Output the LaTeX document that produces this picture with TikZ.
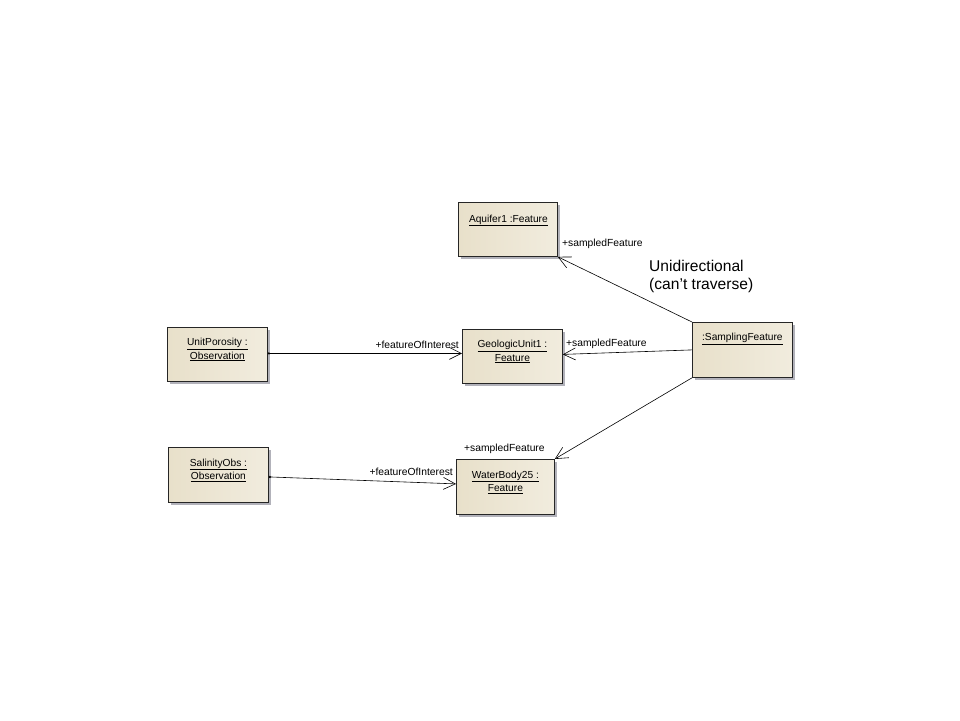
\documentclass[tikz,border=0pt]{standalone}
\usepackage{fontspec}
\setmainfont{Liberation Sans}
\usetikzlibrary{arrows.meta,calc}
\definecolor{boxL}{HTML}{E8E0CA}
\definecolor{boxR}{HTML}{F1ECDE}
\definecolor{shadowc}{HTML}{B2B2BA}
\tikzset{
  umlbox/.style={rectangle,draw=black!85,line width=0.8pt,shading=axis,left color=boxL,right color=boxR,
    minimum width=#1,minimum height=54pt,inner sep=0pt,anchor=north west},
  umlbox/.default=100pt,
  boxtext/.style={font=\fontsize{10.2}{13.5}\selectfont,align=center,inner sep=0pt,anchor=north},
  rolelabel/.style={font=\fontsize{10.3}{12}\selectfont,inner sep=0pt},
  assoc/.style={line width=0.6pt,black},
  navig/.style={assoc,-{Straight Barb[length=12pt,width=12pt,line width=0.6pt]}},
  bothnav/.style={assoc,{Circle[length=2.2pt]}-{Straight Barb[length=12pt,width=12pt,line width=0.6pt]}},
}
\begin{document}
\begin{tikzpicture}[x=1pt,y=-1pt]
\useasboundingbox (0,0) rectangle (960,720);
% shadows
\fill[shadowc] (461,205) rectangle (560,259);
\fill[shadowc] (465,332) rectangle (565,386);
\fill[shadowc] (695,325) rectangle (795,380);
\fill[shadowc] (170,330) rectangle (270,384);
\fill[shadowc] (171,450) rectangle (271,505);
\fill[shadowc] (459,462) rectangle (557,517);
% boxes
\node[umlbox=99pt] (aq) at (458,202) {};
\node[umlbox=100pt] (geo) at (462,329) {};
\node[umlbox=100pt,minimum height=55pt] (samp) at (692,322) {};
\node[umlbox=100pt] (up) at (167,327) {};
\node[umlbox=100pt,minimum height=55pt] (sal) at (168,447) {};
\node[umlbox=98pt,minimum height=55pt] (wb) at (456,459) {};
% box texts
\node[boxtext] (aqt) at ($(aq.north)+(0.5,12.5)$) {\underline{Aquifer1 :Feature}};
\node[boxtext] (geot) at ($(geo.north)+(0,11)$) {\underline{GeologicUnit1 :}\\\underline{Feature}};
\node[boxtext] (sampt) at ($(samp.north)+(0,11)$) {\underline{:SamplingFeature}};
\node[boxtext] (upt) at ($(up.north)+(0,11)$) {\underline{UnitPorosity :}\\\underline{Observation}};
\node[boxtext] (salt) at ($(sal.north)+(0,11.5)$) {\underline{SalinityObs :}\\\underline{Observation}};
\node[boxtext] (wbt) at ($(wb.north)+(0,11.5)$) {\underline{WaterBody25 :}\\\underline{Feature}};
% connectors
\draw[navig] (samp.north west) -- (aq.south east);
\draw[navig] (samp.west) -- ([yshift=2pt]geo.east);
\draw[navig] (samp.south west) -- (wb.north east);
\draw[bothnav] ([yshift=1pt]up.east) -- ([yshift=3pt]geo.west);
\draw[bothnav] ([yshift=-2pt]sal.east) -- ([yshift=3pt]wb.west);
% role labels
\node[rolelabel,anchor=west] (l1) at (562,243.5) {+sampledFeature};
\node[rolelabel,anchor=west] (l2) at (566,344) {+sampledFeature};
\node[rolelabel,anchor=west] (l3) at (464,449) {+sampledFeature};
\node[rolelabel,anchor=east] (l4) at (459,345) {+featureOfInterest};
\node[rolelabel,anchor=east] (l5) at (453,472) {+featureOfInterest};
% note
\node[font=\fontsize{15.6}{17.5}\selectfont,align=left,anchor=north west,inner sep=0pt] (note) at (649,260) {Unidirectional\\(can't traverse)};
\end{tikzpicture}
\end{document}
